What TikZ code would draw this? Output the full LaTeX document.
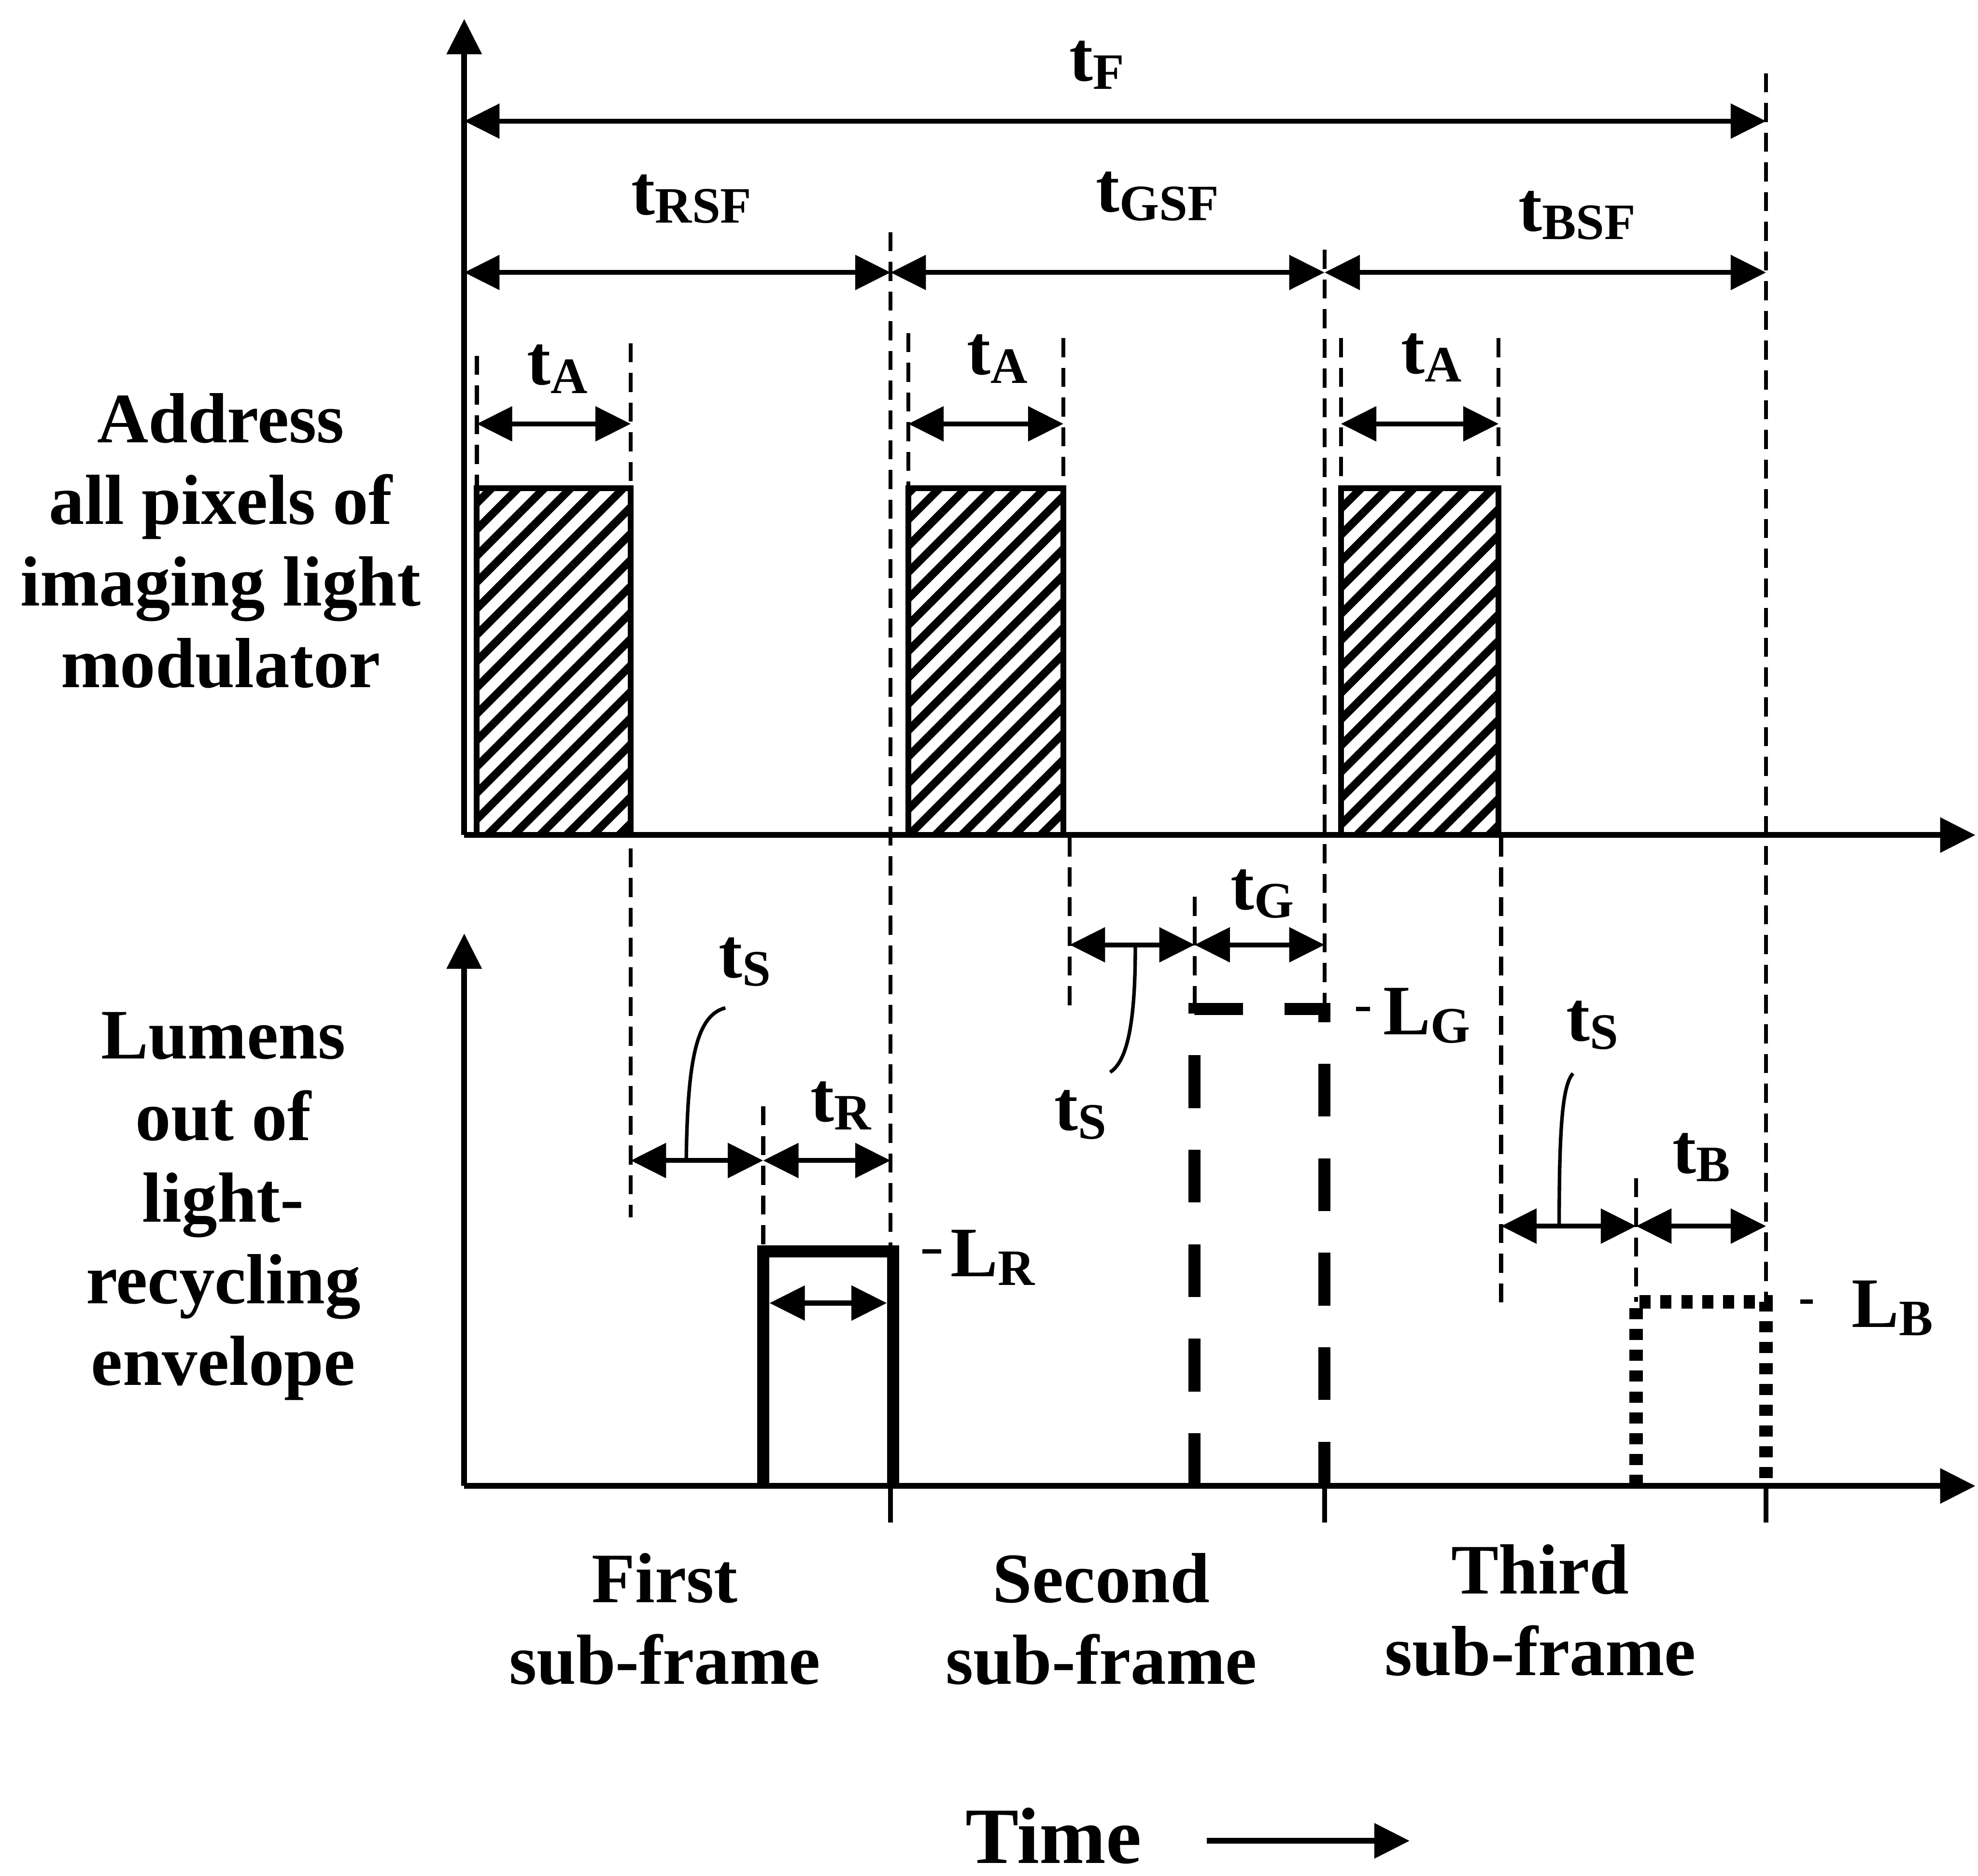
\documentclass[tikz,border=0pt]{standalone}
\usepackage{fontspec}
\setmainfont{Liberation Serif}
\usetikzlibrary{arrows.meta, patterns.meta}
\newcommand{\sub}[1]{\raisebox{-1.9pt}{\fontsize{11.5}{11.5}\selectfont #1}}

\begin{document}
\begin{tikzpicture}[
  x=0.01cm, y=-0.01cm,
  >={Triangle[length=0.28cm, width=0.27cm]},
  axis/.style={line width=1.3pt, ->},
  dim/.style={line width=1.1pt, <->},
  guide/.style={line width=0.9pt, dash pattern=on 4.3pt off 2.4pt},
  leader/.style={line width=0.8pt},
  hatchbox/.style={draw, line width=1.3pt, pattern={Lines[angle=45, distance=4.2pt, line width=1.8pt]}},
  redpulse/.style={line width=2.8pt},
  greenpulse/.style={line width=2.7pt, dash pattern=on 11.9pt off 9.4pt},
  bluepulse/.style={line width=3pt, dash pattern=on 2.5pt off 2.2pt},
  lbl/.style={font=\fontsize{16}{18.4}\selectfont\bfseries, inner sep=0pt},
]
\useasboundingbox (0,0) rectangle (1568,1487);

% Axes
\draw[axis] (368,662) -- (368,15);
\draw[axis] (368,662) -- (1566,662);
\draw[axis] (368,1178) -- (368,740);
\draw[axis] (368,1178) -- (1566,1178);
\foreach \x in {706,1050,1400} \draw[line width=1.1pt] (\x,1178) -- (\x,1207);

% Address periods (hatched)
\foreach \a/\b in {378/500, 720/843, 1063/1188}
  \draw[hatchbox] (\a,662) rectangle (\b,387);

% Guide lines
\foreach \x/\y in {378/282, 720/264, 843/268, 1063/268, 1188/268}
  \draw[guide] (\x,\y) -- (\x,387);
\draw[guide] (500,272) -- (500,965);
\draw[guide] (706,184) -- (706,992);
\draw[guide] (1050,198) -- (1050,800);
\draw[guide] (1400,58) -- (1400,1032);
\draw[guide] (848,664) -- (848,800);
\draw[guide] (1190,664) -- (1190,1034);
\draw[guide] (947,711) -- (947,800);
\draw[guide] (605,877) -- (605,992);
\draw[guide] (1297,934) -- (1297,1032);

% Frame and sub-frame times
\draw[dim] (368,96) -- (1400,96);
\draw[dim] (368,216) -- (706,216);
\draw[dim] (706,216) -- (1050,216);
\draw[dim] (1050,216) -- (1400,216);
\foreach \a/\b in {378/500, 720/843, 1063/1188}
  \draw[dim] (\a,336) -- (\b,336);

% Light pulses
\draw[redpulse] (605,1178) -- (605,992) -- (708,992) -- (708,1178);
\draw[greenpulse] (947,1178) -- (947,800) -- (1050,800) -- (1050,1178);
\draw[bluepulse] (1297,1178) -- (1297,1032) -- (1400,1032) -- (1400,1178);

% Settling and pulse widths
\draw[dim] (500,920) -- (605,920);
\draw[dim] (605,920) -- (706,920);
\draw[dim] (610,1033) -- (703,1033);
\draw[dim] (848,749) -- (947,749);
\draw[dim] (947,749) -- (1050,749);
\draw[dim] (1190,972) -- (1297,972);
\draw[dim] (1297,972) -- (1400,972);
\draw[leader] (544,920) .. controls (545,840) and (552,805) .. (575,799);
\draw[leader] (900,749) .. controls (900,800) and (896,840) .. (880,850);
\draw[leader] (1236,972) .. controls (1236,900) and (1238,860) .. (1247,851);

% Labels
\node[lbl, anchor=base west] (tf) at (847,64) {t\sub{F}};
\node[lbl, anchor=base west] (trsf) at (500,170) {t\sub{RSF}};
\node[lbl, anchor=base west] (tgsf) at (868,168) {t\sub{GSF}};
\node[lbl, anchor=base west] (tbsf) at (1203,183) {t\sub{BSF}};
\node[lbl, anchor=base west] (ta1) at (417,305) {t\sub{A}};
\node[lbl, anchor=base west] (ta2) at (766,297) {t\sub{A}};
\node[lbl, anchor=base west] (ta3) at (1110,296) {t\sub{A}};
\node[lbl, anchor=base west] (ts1) at (569,775) {t\sub{S}};
\node[lbl, anchor=base west] (tr) at (642,889) {t\sub{R}};
\node[lbl, anchor=base west] (ts2) at (835,896) {t\sub{S}};
\node[lbl, anchor=base west] (tg) at (975,721) {t\sub{G}};
\node[lbl, anchor=base west] (ts3) at (1241,825) {t\sub{S}};
\node[lbl, anchor=base west] (tb) at (1325,930) {t\sub{B}};
\node[lbl, anchor=base west] (lr) at (753,1012) {L\sub{R}};
\node[lbl, anchor=base west] (lg) at (1096,820) {L\sub{G}};
\node[lbl, anchor=base west] (lb) at (1467,1052) {L\sub{B}};
\draw[leader, line width=1pt] (731,992) -- (746,992);
\draw[leader, line width=1pt] (1075,800) -- (1086,800);
\draw[leader, line width=1pt] (1427,1032) -- (1437,1032);

\node[lbl, align=center, anchor=base] (address) at (175,545) {Address\\all pixels of\\imaging light\\modulator};
\node[lbl, align=center, anchor=base] (lumens) at (177,1098) {Lumens\\out of\\light-\\recycling\\envelope};
\node[lbl, align=center, anchor=base] (first) at (527,1335) {First\\sub-frame};
\node[lbl, align=center, anchor=base] (second) at (873,1335) {Second\\sub-frame};
\node[lbl, align=center, anchor=base] (third) at (1221,1328) {Third\\sub-frame};
\node[lbl, font=\fontsize{18}{20}\selectfont\bfseries, anchor=base] (time) at (835,1477) {Time};
\draw[axis] ([xshift=0.51cm, yshift=-0.04cm]time.east) -- ++(161,0);
\end{tikzpicture}
\end{document}
